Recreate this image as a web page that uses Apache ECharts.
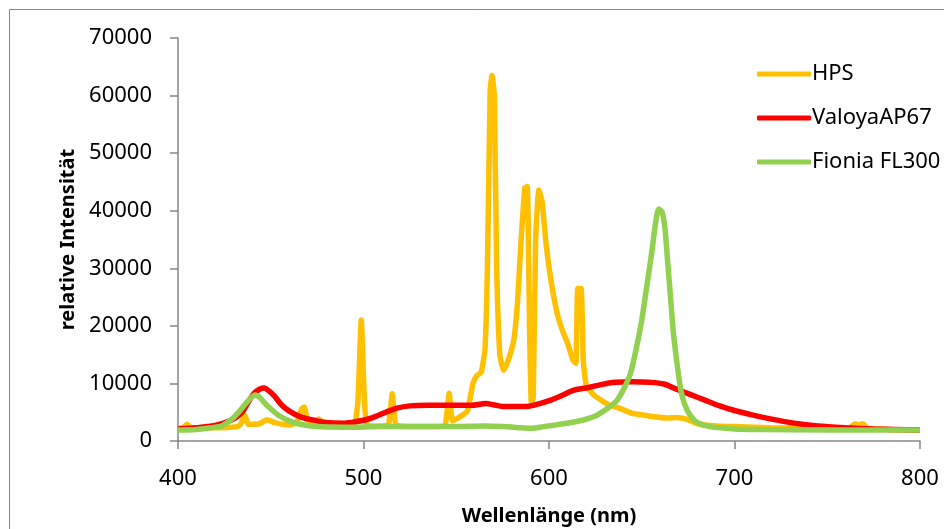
<!DOCTYPE html>
<html>
<head>
<meta charset="utf-8">
<script src="https://cdn.jsdelivr.net/npm/echarts@6/dist/echarts.min.js"></script>
<style>
  html, body { margin: 0; padding: 0; background: #fff; }
  #chart { width: 944px; height: 529px; }
</style>
</head>
<body>
<div id="chart"></div>
<script>
// wavelength (nm) and intensity
const hpsNm = [400, 403, 405, 407, 420, 432, 434, 436, 438, 444, 448, 452, 460, 464, 466.5, 468, 470, 474, 476, 479, 490, 495, 497, 498.8, 500.5, 502, 510, 513.5, 515.5, 517.5, 525, 540, 544, 546.2, 548, 552, 556, 559, 561, 563.5, 565.5, 566.8, 568.3, 569.3, 570.5, 571.8, 573.5, 575.5, 578, 581, 583, 585, 587, 588.3, 589.5, 590.5, 591.5, 592.8, 594.5, 596.3, 598.5, 601, 604.5, 607.5, 610, 613, 614.5, 615.5, 617.3, 618.5, 620, 624, 628, 632, 637, 645, 651, 657, 663, 669, 674, 680, 690, 700, 720, 750, 762, 765, 767, 769, 772, 785, 800];
const hpsVal = [2200, 2400, 2900, 2300, 2300, 2500, 3000, 4500, 2900, 3000, 3700, 3200, 2800, 3200, 5500, 5900, 3600, 3500, 3800, 2800, 2500, 2600, 7000, 21000, 7000, 2800, 2600, 2800, 8200, 2800, 2500, 2500, 2700, 8300, 3500, 4200, 5200, 10000, 11300, 12000, 16000, 30000, 61000, 63500, 60000, 30000, 15000, 12300, 14000, 17500, 24000, 35000, 44000, 44200, 20000, 6600, 7500, 35000, 43600, 41500, 34000, 28000, 22000, 19000, 17000, 14000, 13500, 26500, 26500, 14000, 9800, 8000, 7100, 6300, 5800, 4800, 4500, 4200, 4000, 4100, 3800, 3000, 2600, 2500, 2300, 2200, 2300, 3000, 2800, 3000, 2200, 2000, 1900];

const valoyaNm = [400, 410, 420, 428, 434, 438, 441, 444, 446.5, 449, 452, 456, 460, 466, 472, 480, 490, 500, 506, 512, 518, 525, 535, 545, 558, 566, 570, 575, 588, 595, 601, 607, 613, 620, 628, 636, 645, 654, 662, 668, 676, 684, 692, 700, 710, 720, 732, 745, 760, 775, 800];
const valoyaVal = [2100, 2300, 2700, 3500, 4800, 6800, 8300, 9000, 9200, 8700, 7800, 6200, 5200, 4200, 3700, 3200, 3100, 3600, 4200, 5000, 5700, 6100, 6200, 6200, 6200, 6500, 6300, 6000, 6000, 6500, 7100, 7900, 8800, 9200, 9800, 10200, 10300, 10200, 9900, 9100, 8100, 7100, 6100, 5300, 4500, 3800, 3100, 2600, 2300, 2100, 1900];

const fioniaNm = [400, 410, 418, 424, 429, 433, 436, 439, 441.5, 444, 447, 451, 455, 460, 466, 475, 490, 510, 530, 550, 565, 575, 585, 590, 597, 604, 612, 618, 624, 628, 633, 637, 641, 644, 647, 650, 653, 655.5, 657.5, 659.2, 661, 662.5, 664, 665.5, 667, 669, 671, 673, 676, 680, 687, 700, 714, 750, 800];
const fioniaVal = [1900, 2000, 2300, 2700, 3800, 5100, 6300, 7400, 8000, 7600, 6500, 5300, 4300, 3500, 2900, 2500, 2400, 2500, 2500, 2500, 2600, 2500, 2300, 2200, 2500, 2800, 3200, 3600, 4200, 4900, 6000, 7200, 9500, 11800, 16000, 21000, 27500, 33000, 38000, 40300, 39700, 37000, 31000, 25000, 19000, 13500, 9000, 6500, 4500, 3200, 2500, 2100, 2000, 1900, 1900];

const seriesNames = ['HPS', 'ValoyaAP67', 'Fionia FL300'];

function pairs(xs, ys) {
    return xs.map((x, i) => [x, ys[i]]);
}

const font = 'Noto Sans';
const axisGrey = '#868686';

let chart = echarts.init(document.getElementById('chart'));
chart.setOption({
    animation: false,
    textStyle: { fontFamily: font, color: '#000' },
    graphic: [{
        type: 'rect',
        shape: { x: 9.5, y: 9.5, width: 1000, height: 1000 },
        style: { fill: 'none', stroke: axisGrey, lineWidth: 1 },
        silent: true
    }],
    grid: { left: 178, right: 24, top: 38, bottom: 88, outerBoundsMode: 'none', containLabel: false },
    legend: {
        orient: 'vertical',
        left: 752,
        top: 58,
        itemWidth: 54,
        itemHeight: 5,
        itemGap: 22,
        icon: 'roundRect',
        textStyle: { fontFamily: font, fontSize: 22, color: '#000', padding: [0, 0, 0, -4] },
        data: seriesNames
    },
    xAxis: {
        type: 'value',
        min: 400,
        max: 800,
        interval: 100,
        name: 'Wellenlänge (nm)',
        nameLocation: 'middle',
        nameGap: 65,
        nameTextStyle: { fontFamily: font, fontSize: 20, fontWeight: 'bold', color: '#000' },
        axisLine: { show: true, lineStyle: { color: axisGrey, width: 1.5 } },
        axisTick: { show: true, length: 8, lineStyle: { color: axisGrey, width: 1.5 } },
        axisLabel: { fontFamily: font, fontSize: 22, color: '#000', margin: 27 },
        splitLine: { show: false }
    },
    yAxis: {
        type: 'value',
        min: 0,
        max: 70000,
        interval: 10000,
        name: 'relative Intensität',
        nameLocation: 'middle',
        nameGap: 99,
        nameTextStyle: { fontFamily: font, fontSize: 20, fontWeight: 'bold', color: '#000' },
        axisLine: { show: true, lineStyle: { color: axisGrey, width: 1.5 } },
        axisTick: { show: true, length: 8, lineStyle: { color: axisGrey, width: 1.5 } },
        axisLabel: { fontFamily: font, fontSize: 22, color: '#000', margin: 26, formatter: v => String(v) },
        splitLine: { show: false }
    },
    series: [{
        name: seriesNames[0],
        type: 'line',
        data: pairs(hpsNm, hpsVal),
        showSymbol: false,
        smooth: 0.15,
        color: '#FFC000',
        lineStyle: { width: 5.5, color: '#FFC000' }
    }, {
        name: seriesNames[1],
        type: 'line',
        data: pairs(valoyaNm, valoyaVal),
        showSymbol: false,
        smooth: 0.3,
        color: '#FF0000',
        lineStyle: { width: 5.5, color: '#FF0000' }
    }, {
        name: seriesNames[2],
        type: 'line',
        data: pairs(fioniaNm, fioniaVal),
        showSymbol: false,
        smooth: 0.25,
        color: '#92D050',
        lineStyle: { width: 5.5, color: '#92D050' }
    }]
});
</script>
</body>
</html>
